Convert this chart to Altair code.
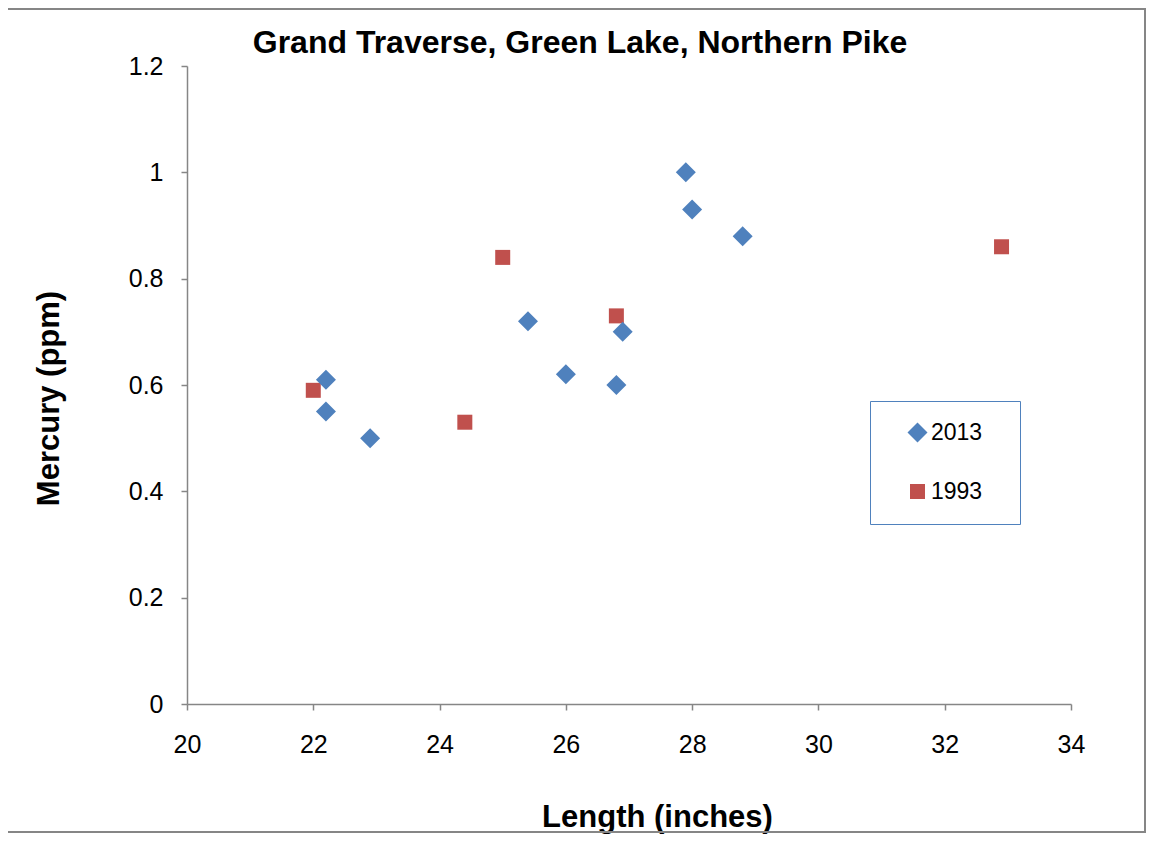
import altair as alt
import pandas as pd

# 2013 series (diamonds)
len_2013 = [22.2, 22.2, 22.9, 25.4, 26.0, 26.8, 26.9, 27.9, 28.0, 28.8]
hg_2013 = [0.61, 0.55, 0.50, 0.72, 0.62, 0.60, 0.70, 1.00, 0.93, 0.88]
# 1993 series (squares)
len_1993 = [22.0, 24.4, 25.0, 26.8, 32.9]
hg_1993 = [0.59, 0.53, 0.84, 0.73, 0.86]

series_order = ["2013", "1993"]
x_ticks = [20, 22, 24, 26, 28, 30, 32, 34]
y_ticks = [0, 0.2, 0.4, 0.6, 0.8, 1.0, 1.2]

rows = [{"len": l, "hg": h, "year": "1993"} for l, h in zip(len_1993, hg_1993)]
rows += [{"len": l, "hg": h, "year": "2013"} for l, h in zip(len_2013, hg_2013)]
df = pd.DataFrame(rows)

FONT = "Liberation Sans"

points = alt.Chart(df).mark_point(filled=True, opacity=1, strokeWidth=0).encode(
    x=alt.X("len:Q",
            scale=alt.Scale(domain=[20, 34], nice=False, zero=False),
            axis=alt.Axis(values=x_ticks, title="Length (inches)",
                          titleX=470, titleY=122, titleAlign="center",
                          titleBaseline="alphabetic", labelPadding=22,
                          labelFlush=False)),
    y=alt.Y("hg:Q",
            scale=alt.Scale(domain=[0, 1.2], nice=False),
            axis=alt.Axis(values=y_ticks, format=".1~f", title="Mercury (ppm)",
                          titleX=-129, titleY=332, titleAlign="center",
                          titleBaseline="alphabetic", titleAngle=270,
                          labelPadding=18, labelFlush=False)),
    color=alt.Color("year:N",
                    scale=alt.Scale(domain=series_order, range=["#4F81BD", "#C0504D"]),
                    legend=alt.Legend(title=".", titleOrient="right", titleColor="white",
                                      titleFontSize=10, titlePadding=15,
                                      orient="none", legendX=683, legendY=335,
                                      strokeColor="#4F81BD", fillColor="white",
                                      padding=20, rowPadding=35, symbolSize=220,
                                      symbolOffset=16, labelOffset=2,
                                      labelFont=FONT, labelFontSize=23,
                                      labelColor="black")),
    shape=alt.Shape("year:N",
                    scale=alt.Scale(domain=series_order, range=["diamond", "square"])),
    size=alt.Size("year:N",
                   scale=alt.Scale(domain=series_order, range=[400, 225]),
                   legend=None),
)

border = alt.Chart(pd.DataFrame({"k": [0]})).mark_rect(
    fill=None, stroke="#868686", strokeWidth=2
).encode(
    x=alt.value(-180), x2=alt.value(958), y=alt.value(-57), y2=alt.value(766)
)

chart = alt.layer(border, points).properties(
    width=884, height=638, background="white",
    padding={"left": 179, "top": 58, "right": 77, "bottom": 130},
    autosize=alt.AutoSizeParams(type="none"),
    title=alt.TitleParams("Grand Traverse, Green Lake, Northern Pike",
                          font=FONT, fontSize=32, fontWeight="bold", color="black",
                          anchor="middle", dx=-49, offset=-77, baseline="alphabetic"),
).configure_view(stroke=None).configure_axis(
    grid=False, domainColor="#868686", tickColor="#868686", domainWidth=1.5,
    tickWidth=1.5, tickSize=6, labelFont=FONT, labelFontSize=25, labelColor="black",
    titleFont=FONT, titleFontSize=31, titleFontWeight="bold", titleColor="black",
)

chart.save("out.html", embed_options={"renderer": "svg", "actions": False})
